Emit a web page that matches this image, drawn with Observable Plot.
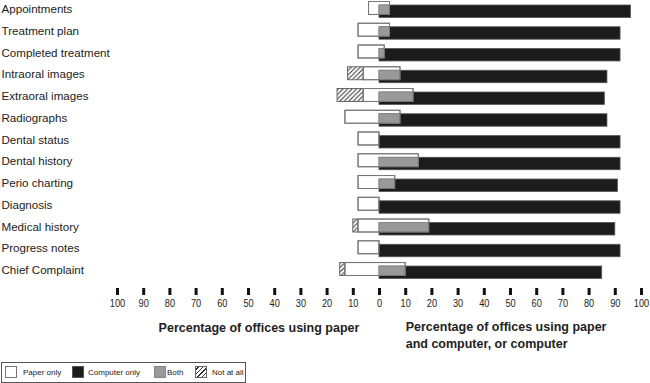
<!DOCTYPE html>
<html>
<head>
<meta charset="utf-8">
<script src="https://cdn.jsdelivr.net/npm/d3@7"></script>
<script src="https://cdn.jsdelivr.net/npm/@observablehq/plot@0.6"></script>
<style>
  body { margin: 0; background: #fff; font-family: "Liberation Sans", Arial, sans-serif; }
  #wrap { position: relative; width: 650px; height: 383px; overflow: hidden; }
  #legend { position: absolute; left: 1px; top: 362px; width: 243px; height: 19px; border: 1px solid #555; box-sizing: content-box; font-size: 8px; color: #222; }
  .sw { position: absolute; top: 3px; width: 12px; height: 12px; box-sizing: border-box; border: 1px solid #777; }
  .lt { position: absolute; top: 5px; line-height: 9px; white-space: nowrap; }
</style>
</head>
<body>
<div id="wrap">
  <div id="chart"></div>
  <div id="legend"></div>
</div>
<script>
const categories = ["Appointments", "Treatment plan", "Completed treatment", "Intraoral images", "Extraoral images", "Radiographs", "Dental status", "Dental history", "Perio charting", "Diagnosis", "Medical history", "Progress notes", "Chief Complaint"];
const paperOnly = [4, 8, 8, 6, 6, 13, 8, 8, 8, 8, 8, 8, 13];
const notAtAll = [0, 0, 0, 6, 10, 0, 0, 0, 0, 0, 2, 0, 2];
const both = [4, 4, 2, 8, 13, 8, 0, 15, 6, 0, 19, 0, 10];
const computerUse = [96, 92, 92, 87, 86, 87, 92, 92, 91, 92, 90, 92, 85];
const tickValues = [-100, -90, -80, -70, -60, -50, -40, -30, -20, -10, 0, 10, 20, 30, 40, 50, 60, 70, 80, 90, 100];
const legendLabels = ["Paper only", "Computer only", "Both", "Not at all"];
const leftTitle = "Percentage of offices using paper";
const rightTitle = "Percentage of offices using paper\nand computer, or computer";

const rows = categories.map((c, i) => ({
  category: c, paper: paperOnly[i], none: notAtAll[i], both: both[i], computer: computerUse[i]
}));

const paperInset = {insetTop: 3.4, insetBottom: 5.4};
const compInset = {insetTop: 6.9, insetBottom: 2.4};
const bothInset = {insetTop: 6.9, insetBottom: 5.4};

const chart = Plot.plot({
  width: 650,
  height: 358,
  marginLeft: 117,
  marginRight: 9,
  marginTop: 0,
  marginBottom: 70,
  style: {fontFamily: '"Liberation Sans", Arial, sans-serif', color: "#222", background: "white", overflow: "visible"},
  x: {domain: [-100, 100]},
  y: {type: "band", domain: categories, range: [-1.9, 280.9], padding: 0, round: false, axis: null},
  marks: [
    Plot.barX(rows.filter(d => d.none > 0), {y: "category", x1: d => -(d.paper + d.none), x2: d => -d.paper, fill: "url(#hatch)", stroke: "#666", strokeWidth: 1, ...paperInset}),
    Plot.barX(rows, {y: "category", x1: d => -d.paper, x2: d => d.both, fill: "white", stroke: "#777", strokeWidth: 1, ...paperInset}),
    Plot.barX(rows, {y: "category", x1: 0, x2: "computer", fill: "#1c1c1c", stroke: "#555", strokeWidth: 0.8, ...compInset}),
    Plot.barX(rows.filter(d => d.both > 0), {y: "category", x1: 0, x2: "both", fill: "#999", stroke: "#888", strokeWidth: 0.8, ...bothInset}),
    Plot.barX(rows, {y: "category", x1: d => -d.paper, x2: d => d.both, fill: "none", stroke: "#777", strokeWidth: 1, ...paperInset}),
    Plot.text(rows, {y: "category", text: "category", frameAnchor: "left", dx: -116, textAnchor: "start", fontSize: 11.6, fill: "#222"}),
    Plot.axisX(tickValues, {anchor: "bottom", tickSize: 7, strokeWidth: 3, stroke: "#111", tickPadding: 3, tickFormat: d => String(Math.abs(d)), fontSize: 11.5, fill: "#222", label: null}),
    Plot.text([leftTitle], {x: -46, frameAnchor: "bottom", dy: 43, fontWeight: "bold", fontSize: 12.5, fill: "#222"}),
    Plot.text([rightTitle], {x: 10, frameAnchor: "bottom", dy: 59, textAnchor: "start", lineHeight: 1.3, fontWeight: "bold", fontSize: 12.5, fill: "#222"})
  ]
});

const svgEl = chart.tagName.toLowerCase() === "svg" ? chart : chart.querySelector("svg");
const svg = d3.select(svgEl);
const pat = svg.insert("defs", ":first-child").append("pattern")
  .attr("id", "hatch").attr("patternUnits", "userSpaceOnUse")
  .attr("width", 4.5).attr("height", 4.5);
pat.append("rect").attr("width", 4.5).attr("height", 4.5).attr("fill", "white");
pat.append("path").attr("d", "M-1,1 L1,-1 M0,4.5 L4.5,0 M3.5,5.5 L5.5,3.5").attr("stroke", "#333").attr("stroke-width", 1);
document.getElementById("chart").appendChild(chart);

// condense the tick labels a little, like the narrow face of the original
svg.selectAll("text").filter(function() { return /^\d+$/.test(this.textContent.trim()); }).each(function() {
  const w = this.getComputedTextLength();
  if (w > 0) {
    this.setAttribute("textLength", (w * 0.8).toFixed(2));
    this.setAttribute("lengthAdjust", "spacingAndGlyphs");
  }
});

// legend
const legend = document.getElementById("legend");
const items = [
  {label: legendLabels[0], sx: 3, tx: 21, style: "background:#fff;"},
  {label: legendLabels[1], sx: 70, tx: 86, style: "background:#1c1c1c;border-color:#555;"},
  {label: legendLabels[2], sx: 152, tx: 165, style: "background:#999;border-color:#888;"},
  {label: legendLabels[3], sx: 193, tx: 210, style: "background:repeating-linear-gradient(-45deg,#fff 0px,#fff 2.2px,#333 2.2px,#333 3.2px);border-color:#666;"}
];
items.forEach(it => {
  const s = document.createElement("div");
  s.className = "sw"; s.style.cssText = `left:${it.sx}px;` + it.style;
  legend.appendChild(s);
  const t = document.createElement("div");
  t.className = "lt"; t.style.left = it.tx + "px"; t.textContent = it.label;
  legend.appendChild(t);
});
</script>
</body>
</html>
